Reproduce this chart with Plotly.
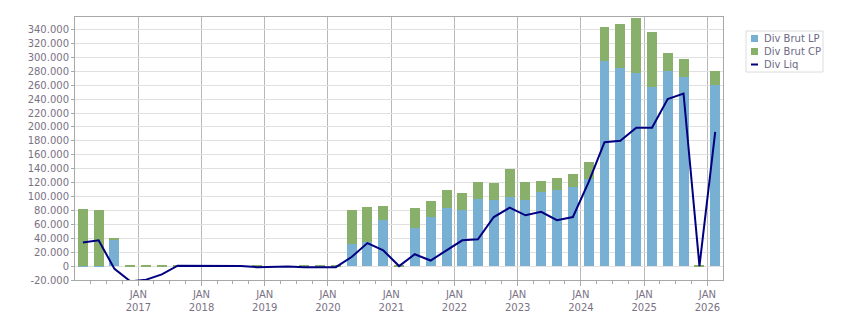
import pandas as pd
import plotly.graph_objects as go

# ---------------- data ----------------
quarters = [f"{y}Q{q}" for y in range(2016, 2026) for q in range(1, 5)] + ["2026Q1"]

div_brut_lp = [
    700, 700, 38000, 0,
    0, 0, 0, 0,
    0, 0, 0, 0,
    0, 0, 0, 0,
    0, 32000, 35000, 66000,
    0, 55000, 70000, 84000,
    80000, 97000, 95000, 99000,
    95000, 106000, 110000, 113000,
    125000, 295000, 285000, 277000,
    258000, 280000, 272000, 0,
    260000,
]
div_brut_cp = [
    81300, 80300, 1500, 500,
    500, 500, 500, 0,
    0, 0, 0, 500,
    0, 0, 500, 500,
    500, 48000, 50000, 21000,
    500, 28000, 23000, 25000,
    24700, 24500, 24000, 40000,
    26000, 16000, 16000, 19000,
    24500, 49000, 63000, 80000,
    79000, 26000, 26000, 500,
    20000,
]
div_liq = [
    34000, 37000, -4000, -22000,
    -19500, -12000, 500, 500,
    500, 500, 0, -1500,
    -500, -500, -1500, -1500,
    -1500, 13000, 33000, 22500,
    0, 17000, 8000, 22500,
    37000, 38500, 70500, 84000,
    73000, 78000, 66000, 70500,
    121000, 178000, 180000, 199000,
    199000, 240000, 248000, 0,
    193000,
]
years = list(range(2017, 2027))
y_ticks = list(range(-20000, 340001, 20000))

# ---------------- helpers ----------------
periods = pd.PeriodIndex(quarters, freq="Q")
starts = periods.start_time
ends = periods.end_time
x = [s + (e - s) / 2 for s, e in zip(starts, ends)]
bar_width_ms = 57.5 * 86400000

def fmt(v):
    s = f"{abs(v):,}".replace(",", ".")
    return ("-" if v < 0 else "") + s

BLUE = "#78b0d4"
GREEN = "#89b06a"
NAVY = "#000080"
TXT = "#7a7284"

fig = go.Figure()
fig.add_trace(go.Bar(x=x, y=div_brut_lp, name="Div Brut LP", marker_color=BLUE,
                     marker_line_width=0, width=bar_width_ms, showlegend=False))
fig.add_trace(go.Bar(x=x, y=div_brut_cp, name="Div Brut CP", marker_color=GREEN,
                     marker_line_width=0, width=bar_width_ms, showlegend=False))
fig.add_trace(go.Scatter(x=x, y=div_liq, name="Div Liq", mode="lines",
                         line=dict(color=NAVY, width=2), showlegend=False))

minor_vals = [s for s in pd.date_range("2016-04-01", "2026-01-01", freq="QS")]

fig.update_layout(
    width=851, height=313,
    margin=dict(l=75, r=128, t=17, b=33),
    barmode="stack",
    plot_bgcolor="white", paper_bgcolor="white",
    font=dict(family="DejaVu Sans", size=10, color=TXT),
    xaxis=dict(
        type="date",
        range=["2016-01-01", "2026-04-01"],
        tickmode="array",
        tickvals=[f"{y}-01-01" for y in years],
        ticktext=[f"JAN<br>{y}" for y in years],
        showgrid=True, gridcolor="#b8b8b8", gridwidth=1,
        showline=True, linecolor="#a8a8a8", mirror=True,
        ticks="outside", ticklen=5, tickcolor="#a8a8a8",
        minor=dict(tickmode="array", tickvals=minor_vals, ticks="outside",
                   ticklen=3, tickcolor="#a8a8a8", showgrid=False),
        tickfont=dict(size=10, color=TXT),
        zeroline=False,
        automargin=False,
    ),
    yaxis=dict(
        range=[-20000, 358000],
        tickmode="array",
        tickvals=y_ticks,
        ticktext=[fmt(v) for v in y_ticks],
        showgrid=True, gridcolor="#e0e0e0", gridwidth=1,
        showline=True, linecolor="#a8a8a8", mirror=True,
        ticks="outside", ticklen=3, tickcolor="#a8a8a8",
        tickfont=dict(size=10, color=TXT),
        zeroline=False,
        automargin=False,
    ),
)

# ---------------- custom legend ----------------
pw, ph = 648.0, 263.0
def px(xp):
    return (xp - 75) / pw
def py(yp):
    return (280 - yp) / ph

fig.add_shape(type="rect", xref="paper", yref="paper",
              x0=px(746), x1=px(823), y0=py(72), y1=py(31),
              line=dict(color="#dcdcdc", width=1), fillcolor="white")
legend_items = [("Div Brut LP", BLUE, "box", 38.5),
                ("Div Brut CP", GREEN, "box", 51.5),
                ("Div Liq", NAVY, "line", 64.5)]
for name, col, kind, yc in legend_items:
    if kind == "box":
        fig.add_shape(type="rect", xref="paper", yref="paper",
                      x0=px(751), x1=px(758), y0=py(yc + 3.5), y1=py(yc - 3.5),
                      line=dict(width=0), fillcolor=col)
    else:
        fig.add_shape(type="line", xref="paper", yref="paper",
                      x0=px(751), x1=px(758), y0=py(yc), y1=py(yc),
                      line=dict(color=col, width=2))
    fig.add_annotation(xref="paper", yref="paper", x=px(761.5), y=py(yc),
                       text=name, showarrow=False, xanchor="left", yanchor="middle",
                       font=dict(size=10, color="#6e6a86"))

fig.write_html("out.html")
